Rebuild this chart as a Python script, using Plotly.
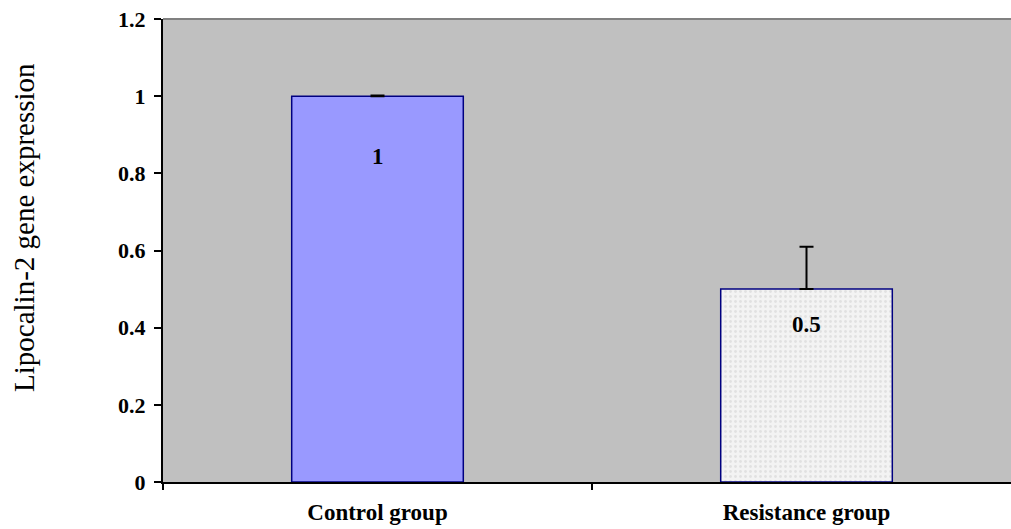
import plotly.graph_objects as go

categories = ["Control group", "Resistance group"]
values = [1.0, 0.5]
errors_plus = [0.002, 0.11]
value_labels = ["1", "0.5"]
label_shift_px = [-60, -35]
y_ticks = [0, 0.2, 0.4, 0.6, 0.8, 1.0, 1.2]
y_tick_text = ["0", "0.2", "0.4", "0.6", "0.8", "1", "1.2"]
y_title = "Lipocalin-2 gene expression"

W, H = 1011, 529
L, T, B, R = 163, 19, 47, 0

fig = go.Figure()
fig.add_trace(go.Bar(
    x=[categories[0]], y=[values[0]], width=0.4,
    marker=dict(color="#9999FF", line=dict(color="#000080", width=1.5)),
    error_y=dict(type="data", symmetric=False, array=[errors_plus[0]], arrayminus=[0],
                 color="black", thickness=2, width=7),
    showlegend=False,
))
fig.add_trace(go.Bar(
    x=[categories[1]], y=[values[1]], width=0.4,
    marker=dict(color="#F2F2F2", line=dict(color="#000080", width=1.5),
                pattern=dict(shape=".", fgcolor="#D0D0D0", bgcolor="#F3F3F3", size=5, solidity=0.25)),
    error_y=dict(type="data", symmetric=False, array=[errors_plus[1]], arrayminus=[0],
                 color="black", thickness=2, width=7),
    showlegend=False,
))

for c, v, t, s in zip(categories, values, value_labels, label_shift_px):
    fig.add_annotation(x=c, y=v, text="<b>%s</b>" % t, showarrow=False, yshift=s,
                       font=dict(family="Liberation Serif", size=23, color="black"))

plot_w = W - L - R
plot_h = H - T - B
cat_px = 429.0
x_hi = -0.5 + plot_w / cat_px

fig.add_annotation(xref="paper", yref="paper", x=(24 - L) / plot_w,
                   y=(H - B - 228) / plot_h,
                   text=y_title, textangle=-90, showarrow=False, xanchor="center", yanchor="middle",
                   font=dict(family="Liberation Serif", size=29, color="black"))

fig.update_layout(
    width=W, height=H,
    margin=dict(l=L, r=R, t=T, b=B, autoexpand=False),
    plot_bgcolor="#C0C0C0", paper_bgcolor="white",
    font=dict(family="Liberation Serif", color="black"),
    xaxis=dict(
        type="category", range=[-0.5, x_hi], tickson="boundaries", automargin=False,
        ticks="outside", ticklen=6, tickwidth=1.5, tickcolor="black",
        showline=True, linecolor="black", linewidth=2, showgrid=False,
        tickfont=dict(family="Liberation Serif", size=23, color="black"),
        ticklabelstandoff=8, ticklabeloverflow="allow",
        tickvals=categories, ticktext=["<b>%s</b>" % c for c in categories],
    ),
    yaxis=dict(
        range=[0, 1.2], tickvals=y_ticks, ticktext=["<b>%s</b>" % t for t in y_tick_text],
        automargin=False, ticklabeloverflow="allow",
        ticks="outside", ticklen=7, tickwidth=1.5, tickcolor="black",
        showline=True, linecolor="black", linewidth=2, showgrid=False, zeroline=False,
        tickfont=dict(family="Liberation Serif", size=22, color="black"),
        ticklabelstandoff=4,
    ),
)
fig.add_shape(type="line", xref="paper", yref="paper", x0=0, x1=1, y0=1, y1=1,
              line=dict(color="#808080", width=2))

fig.write_html(
    "out.html",
    config={"displayModeBar": False},
    post_script="document.body.style.margin='0';document.body.style.overflow='hidden';",
)
